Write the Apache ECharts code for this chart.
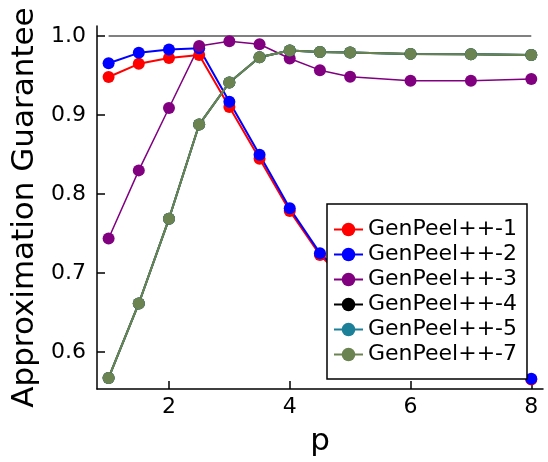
<!DOCTYPE html>
<html>
<head>
<meta charset="utf-8">
<script src="https://cdn.jsdelivr.net/npm/echarts@6/dist/echarts.min.js"></script>
<style>html,body{margin:0;padding:0;background:#fff;}#c{width:548px;height:462px;}</style>
</head>
<body>
<div id="c"></div>
<script>
const pValues = [1, 1.5, 2, 2.5, 3, 3.5, 4, 4.5, 5, 6, 7, 8];
const gp1 = [0.948, 0.9647, 0.972, 0.976, 0.910, 0.8445, 0.7785, 0.7226, 0.685, 0.640, 0.600, 0.565];
const gp2 = [0.9655, 0.9786, 0.9828, 0.9845, 0.9168, 0.8496, 0.7818, 0.725, 0.688, 0.643, 0.603, 0.566];
const gp3 = [0.7436, 0.8298, 0.9088, 0.9874, 0.9933, 0.9895, 0.9714, 0.9567, 0.9483, 0.9433, 0.9433, 0.9454];
const gp4 = [0.567, 0.6613, 0.7685, 0.8878, 0.9411, 0.9731, 0.9815, 0.9798, 0.979, 0.9773, 0.9769, 0.976];
const gp5 = [0.567, 0.6613, 0.7685, 0.8878, 0.9411, 0.9731, 0.9815, 0.9798, 0.979, 0.9773, 0.9769, 0.976];
const gp7 = [0.567, 0.6613, 0.7685, 0.8878, 0.9411, 0.9731, 0.9815, 0.9798, 0.979, 0.9773, 0.9769, 0.976];
const refX = [1, 8];
const refY = [1.0, 1.0];
const xTicks = [2, 4, 6, 8];
const yTicks = [0.6, 0.7, 0.8, 0.9, 1.0];
const names = ['GenPeel++-1', 'GenPeel++-2', 'GenPeel++-3', 'GenPeel++-4', 'GenPeel++-5', 'GenPeel++-7'];
const colors = ['#ff0000', '#0000ff', '#800080', '#000000', '#1b8098', '#6a8350'];
const seriesData = [gp1, gp2, gp3, gp4, gp5, gp7];
const widths = [2, 2, 1.5, 2, 2, 2];

const FONT = 'DejaVu Sans';
const chart = echarts.init(document.getElementById('c'), null, {renderer: 'canvas'});

const zip = (xs, ys) => xs.map((x, i) => [x, ys[i]]);

const series = [{
  name: 'ref', type: 'line', data: zip(refX, refY), symbol: 'none',
  lineStyle: {color: '#808080', width: 2}, itemStyle: {color: '#808080'},
  silent: true, animation: false, z: 1
}];
names.forEach((n, i) => {
  series.push({
    name: n, type: 'line', data: zip(pValues, seriesData[i]),
    symbol: 'circle', symbolSize: 12,
    lineStyle: {color: colors[i], width: widths[i]},
    itemStyle: {color: colors[i]},
    animation: false, z: 2
  });
});

chart.setOption({
  animation: false,
  backgroundColor: '#fff',
  grid: {left: 97, top: 26, right: 5, bottom: 71, containLabel: false},
  xAxis: {
    type: 'value', min: 0.808, max: 8.194,
    name: 'p', nameLocation: 'middle', nameGap: 37,
    nameTextStyle: {fontFamily: FONT, fontSize: 31, color: '#000'},
    axisLine: {show: true, lineStyle: {color: '#000', width: 1.5}},
    axisTick: {show: true, inside: true, length: 8, customValues: xTicks, lineStyle: {color: '#000', width: 1.5}},
    axisLabel: {show: true, customValues: xTicks, margin: 7, fontFamily: FONT, fontSize: 22, color: '#000',
      formatter: v => String(Math.round(v))},
    splitLine: {show: false}
  },
  yAxis: {
    type: 'value', min: 0.553, max: 1.0126,
    name: 'Approximation Guarantee', nameLocation: 'middle', nameGap: 53, nameRotate: 90,
    nameTextStyle: {fontFamily: FONT, fontSize: 31, color: '#000'},
    axisLine: {show: true, lineStyle: {color: '#000', width: 1.5}},
    axisTick: {show: true, inside: true, length: 8, customValues: yTicks, lineStyle: {color: '#000', width: 1.5}},
    axisLabel: {show: true, customValues: yTicks, margin: 11, fontFamily: FONT, fontSize: 22, color: '#000',
      formatter: v => v.toFixed(1)},
    splitLine: {show: false}
  },
  legend: {
    data: names,
    orient: 'vertical', left: 327, top: 204,
    padding: [13, 10, 12, 6],
    itemGap: 0, itemWidth: 29, itemHeight: 17,
    backgroundColor: '#fff', borderColor: '#000', borderWidth: 1.5, borderRadius: 0,
    textStyle: {fontFamily: FONT, fontSize: 22, color: '#000', lineHeight: 25, padding: [0, 0, 0, 0]},
    z: 10
  },
  series: series
});
</script>
</body>
</html>
